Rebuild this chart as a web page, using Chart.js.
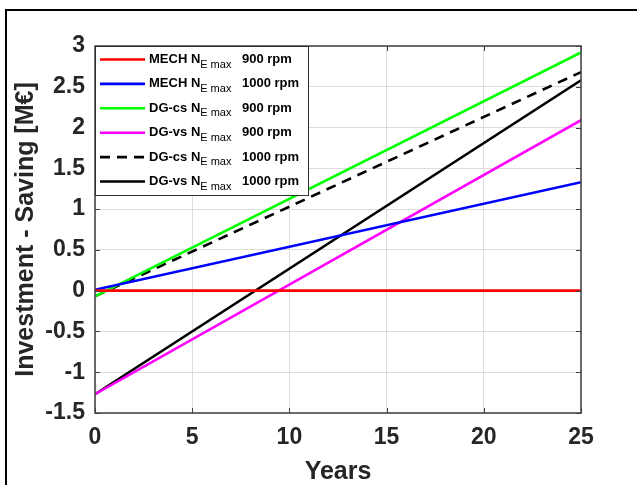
<!DOCTYPE html>
<html>
<head>
<meta charset="utf-8">
<script src="https://cdn.jsdelivr.net/npm/chart.js@4"></script>
<style>
  html, body { margin: 0; padding: 0; background: #ffffff; }
  canvas { display: block; }
</style>
</head>
<body>
<canvas id="c" width="637" height="485"></canvas>
<script>
// ---- data ----
const years = [0, 25];
const mech900 = [0, 0];
const mech1000 = [0.01, 1.33];
const dgcs900 = [-0.07, 2.92];
const dgvs900 = [-1.27, 2.09];
const dgcs1000 = [-0.07, 2.68];
const dgvs1000 = [-1.27, 2.58];

const xTicks = [0, 5, 10, 15, 20, 25];
const yTicks = [-1.5, -1, -0.5, 0, 0.5, 1, 1.5, 2, 2.5, 3];

const seriesNames = ['MECH', 'MECH', 'DG-cs', 'DG-vs', 'DG-cs', 'DG-vs'];
const seriesRpm = ['900 rpm', '1000 rpm', '900 rpm', '900 rpm', '1000 rpm', '1000 rpm'];
const seriesValues = [mech900, mech1000, dgcs900, dgvs900, dgcs1000, dgvs1000];
const seriesColors = ['#ff0000', '#0000ff', '#00ff00', '#ff00ff', '#000000', '#000000'];
const seriesDash = [[], [], [], [], [10, 7], []];

const FONT = '"Liberation Sans", Arial, Helvetica, sans-serif';
const AXIS_COLOR = '#404040';

const pts = vals => years.map((x, i) => ({ x: x, y: vals[i] }));

const datasets = seriesValues.map((vals, i) => ({
  label: seriesNames[i] + ' N E max ' + seriesRpm[i],
  data: pts(vals),
  borderColor: seriesColors[i],
  backgroundColor: seriesColors[i],
  borderWidth: 2.6,
  borderDash: seriesDash[i],
  pointRadius: 0,
  tension: 0,
  fill: false
}));

const framePlugin = {
  id: 'frame',
  beforeDraw(chart) {
    const ctx = chart.ctx;
    ctx.save();
    ctx.fillStyle = '#ffffff';
    ctx.fillRect(0, 0, chart.width, chart.height);
    ctx.strokeStyle = '#000000';
    ctx.lineWidth = 2;
    ctx.beginPath();
    ctx.moveTo(6, chart.height + 2);
    ctx.lineTo(6, 10);
    ctx.lineTo(chart.width + 2, 10);
    ctx.stroke();
    ctx.restore();
  }
};

const boxPlugin = {
  id: 'box',
  afterDraw(chart) {
    const ctx = chart.ctx;
    const a = chart.chartArea;
    const xs = chart.scales.x, ys = chart.scales.y;
    ctx.save();
    ctx.strokeStyle = AXIS_COLOR;
    ctx.lineWidth = 1;
    ctx.beginPath();
    // inward ticks
    xTicks.forEach(v => {
      const px = Math.round(xs.getPixelForValue(v)) + 0.5;
      ctx.moveTo(px, a.bottom); ctx.lineTo(px, a.bottom - 5);
      ctx.moveTo(px, a.top); ctx.lineTo(px, a.top + 5);
    });
    yTicks.forEach(v => {
      const py = Math.round(ys.getPixelForValue(v)) + 0.5;
      ctx.moveTo(a.left, py); ctx.lineTo(a.left + 5, py);
      ctx.moveTo(a.right, py); ctx.lineTo(a.right - 5, py);
    });
    ctx.stroke();
    ctx.lineWidth = 1.5;
    ctx.strokeRect(a.left, a.top, a.right - a.left, a.bottom - a.top);

    // legend
    const lx = a.left, ly = a.top, lw = 213, lh = 149;
    ctx.fillStyle = '#ffffff';
    ctx.fillRect(lx, ly, lw, lh);
    ctx.lineWidth = 1;
    ctx.strokeStyle = '#303030';
    ctx.strokeRect(lx + 0.5, ly + 0.5, lw, lh);
    const rowH = 24.4;
    for (let i = 0; i < seriesNames.length; i++) {
      const cy = ly + 13.5 + i * rowH;
      ctx.strokeStyle = seriesColors[i];
      ctx.lineWidth = 2.6;
      ctx.setLineDash(seriesDash[i]);
      ctx.beginPath();
      ctx.moveTo(lx + 5, cy);
      ctx.lineTo(lx + 50, cy);
      ctx.stroke();
      ctx.setLineDash([]);
      ctx.fillStyle = '#000000';
      ctx.textBaseline = 'middle';
      ctx.textAlign = 'left';
      let tx = lx + 54;
      ctx.font = 'bold 13px ' + FONT;
      const main = seriesNames[i] + ' N';
      ctx.fillText(main, tx, cy);
      tx += ctx.measureText(main).width;
      ctx.font = '11px ' + FONT;
      ctx.fillText('E', tx, cy + 5);
      tx += ctx.measureText('E').width + 3;
      ctx.fillText('max', tx, cy + 5);
      tx = lx + 147;
      ctx.font = 'bold 13px ' + FONT;
      ctx.fillText(seriesRpm[i], tx, cy);
    }
    ctx.restore();
  }
};

new Chart(document.getElementById('c'), {
  type: 'line',
  data: { datasets: datasets },
  options: {
    responsive: false,
    animation: false,
    devicePixelRatio: 1,
    layout: { padding: { left: 0, right: 56, top: 46, bottom: 0 } },
    plugins: { legend: { display: false }, tooltip: { enabled: false } },
    scales: {
      x: {
        type: 'linear',
        min: 0, max: 25,
        afterBuildTicks: s => { s.ticks = xTicks.map(v => ({ value: v })); },
        afterFit: s => { s.height = 72; },
        ticks: {
          color: '#262626',
          padding: 11,
          font: { family: FONT, size: 23, weight: 'bold' },
          callback: v => String(v)
        },
        grid: { color: '#dcdcdc', lineWidth: 1, drawTicks: false },
        border: { display: false },
        title: {
          display: true,
          text: 'Years',
          color: '#262626',
          font: { family: FONT, size: 25, weight: 'bold', lineHeight: 1 },
          padding: { top: 0, bottom: 0 }
        }
      },
      y: {
        type: 'linear',
        min: -1.5, max: 3,
        afterBuildTicks: s => { s.ticks = yTicks.map(v => ({ value: v })); },
        afterFit: s => { s.width = 95; },
        ticks: {
          color: '#262626',
          padding: 10,
          font: { family: FONT, size: 23, weight: 'bold' },
          callback: v => String(v)
        },
        grid: { color: '#dcdcdc', lineWidth: 1, drawTicks: false },
        border: { display: false },
        title: {
          display: true,
          text: 'Investment - Saving [M€]',
          color: '#262626',
          font: { family: FONT, size: 25, weight: 'bold', lineHeight: 1 },
          padding: { top: 14, bottom: 0 }
        }
      }
    }
  },
  plugins: [framePlugin, boxPlugin]
});
</script>
</body>
</html>
